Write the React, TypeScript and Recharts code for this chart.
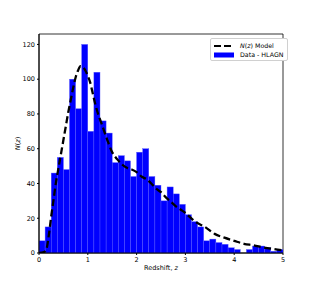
import { ComposedChart, Bar, Line, XAxis, YAxis, ReferenceArea } from 'recharts'

// histogram: 40 bins of width 0.125 from z = 0 to 5
const binWidth = 0.125
const counts = [
  7, 15, 46, 55, 48, 100, 83, 120, 70, 104,
  76, 69, 52, 56, 53, 44, 58, 60, 44, 39,
  30, 38, 34, 28, 22, 18, 15, 7, 8, 6,
  5, 3, 2, 0, 2, 4, 4, 3, 1, 2,
]

// N(z) model curve
const modelZ = [
  0, 0.1, 0.15, 0.2, 0.25, 0.3, 0.35, 0.4, 0.45, 0.5, 0.55, 0.6, 0.65, 0.7, 0.75,
  0.8, 0.85, 0.9, 0.95, 1.0, 1.05, 1.1, 1.15, 1.2, 1.3, 1.4, 1.5, 1.6, 1.7, 1.8,
  1.9, 2.0, 2.1, 2.2, 2.3, 2.4, 2.5, 2.6, 2.7, 2.8, 2.9, 3.0, 3.2, 3.4, 3.6, 3.8,
  4.0, 4.2, 4.4, 4.6, 4.8, 5.0,
]
const modelN = [
  0, 0.5, 2, 10, 21, 31, 41, 49, 57, 65, 73, 81, 88, 95, 101,
  105, 107.5, 107, 105, 102, 98, 92, 86, 81, 73, 65, 58, 54, 51, 49,
  48, 46.5, 44, 42.5, 40, 37, 35, 32, 29.5, 27, 25, 23, 18, 15, 11, 8.8,
  7, 5.3, 4.4, 3.2, 2.3, 1.6,
]

const xTicks = [0, 1, 2, 3, 4, 5]
const yTicks = [0, 20, 40, 60, 80, 100, 120]

const histData = counts.map((c, i) => ({ z: (i + 0.5) * binWidth, count: c }))
const modelData = modelZ.map((z, i) => ({ z, n: modelN[i] }))

const font = 'DejaVu Sans, sans-serif'
const plotWidth = 244
const binPx = (plotWidth / 5) * binWidth

// widen each bar to the full bin width around the centre the scale gives
function BinBar(props: any) {
  const { x, y, width, height } = props
  if (!height || height <= 0) return null
  const cx = x + width / 2
  return (
    <rect
      x={cx - binPx / 2}
      y={y}
      width={binPx}
      height={height}
      fill="#0000ff"
      stroke="#5a5aff"
      strokeWidth={0.4}
    />
  )
}

function LegendBox() {
  return (
    <div
      style={{
        position: 'absolute',
        left: 210,
        top: 38,
        border: '1px solid #d0d0d0',
        borderRadius: 2,
        background: '#fff',
        padding: '2px 3px 1px 3px',
        fontFamily: font,
        fontSize: 6.3,
        color: '#000',
        lineHeight: '9px',
        whiteSpace: 'nowrap',
      }}
    >
      <div style={{ display: 'flex', alignItems: 'center' }}>
        <svg width={20} height={6} style={{ marginRight: 6 }}>
          <line x1={0} y1={3} x2={20} y2={3} stroke="#000" strokeWidth={2.2} strokeDasharray="7 3" />
        </svg>
        <span>
          <i>N</i>(<i>z</i>) Model
        </span>
      </div>
      <div style={{ display: 'flex', alignItems: 'center' }}>
        <svg width={20} height={6} style={{ marginRight: 6 }}>
          <rect x={0} y={0.5} width={20} height={5} fill="#0000ff" />
        </svg>
        <span>Data - HLAGN</span>
      </div>
    </div>
  )
}

export default function App() {
  return (
    <div style={{ position: 'absolute', left: 0, top: 0, width: 315, height: 284, background: '#fff' }}>
      <ComposedChart
        width={315}
        height={284}
        data={histData}
        margin={{ top: 34, right: 32, bottom: 11, left: 0 }}
      >
        <XAxis
          dataKey="z"
          type="number"
          domain={[0, 5]}
          ticks={xTicks}
          allowDataOverflow
          stroke="#000"
          tickSize={2}
          height={20}
          tick={{ fontSize: 6.5, fill: '#000', fontFamily: font }}
          label={{
            content: ({ viewBox }: any) => (
              <text
                x={viewBox.x + viewBox.width / 2}
                y={viewBox.y + 17}
                textAnchor="middle"
                fontSize={6.5}
                fontFamily={font}
                fill="#000"
              >
                Redshift, <tspan fontStyle="italic">z</tspan>
              </text>
            ),
          }}
        />
        <YAxis
          type="number"
          domain={[0, 126]}
          ticks={yTicks}
          allowDataOverflow
          width={39}
          stroke="#000"
          tickSize={2}
          tick={{ fontSize: 6.5, fill: '#000', fontFamily: font }}
          label={{
            content: ({ viewBox }: any) => (
              <text
                x={20}
                y={viewBox.y + viewBox.height / 2}
                textAnchor="middle"
                fontSize={6.5}
                fontFamily={font}
                fill="#000"
                transform={`rotate(-90 20 ${viewBox.y + viewBox.height / 2})`}
              >
                <tspan fontStyle="italic">N</tspan>(<tspan fontStyle="italic">z</tspan>)
              </text>
            ),
          }}
        />
        <Bar dataKey="count" shape={<BinBar />} isAnimationActive={false} />
        <Line
          data={modelData}
          dataKey="n"
          type="monotone"
          stroke="#000"
          strokeWidth={2.3}
          strokeDasharray="7 3.5"
          dot={false}
          activeDot={false}
          isAnimationActive={false}
        />
        <ReferenceArea x1={0} x2={5} y1={0} y2={126} fill="none" stroke="#000" strokeWidth={0.8} />
      </ComposedChart>
      <LegendBox />
    </div>
  )
}
